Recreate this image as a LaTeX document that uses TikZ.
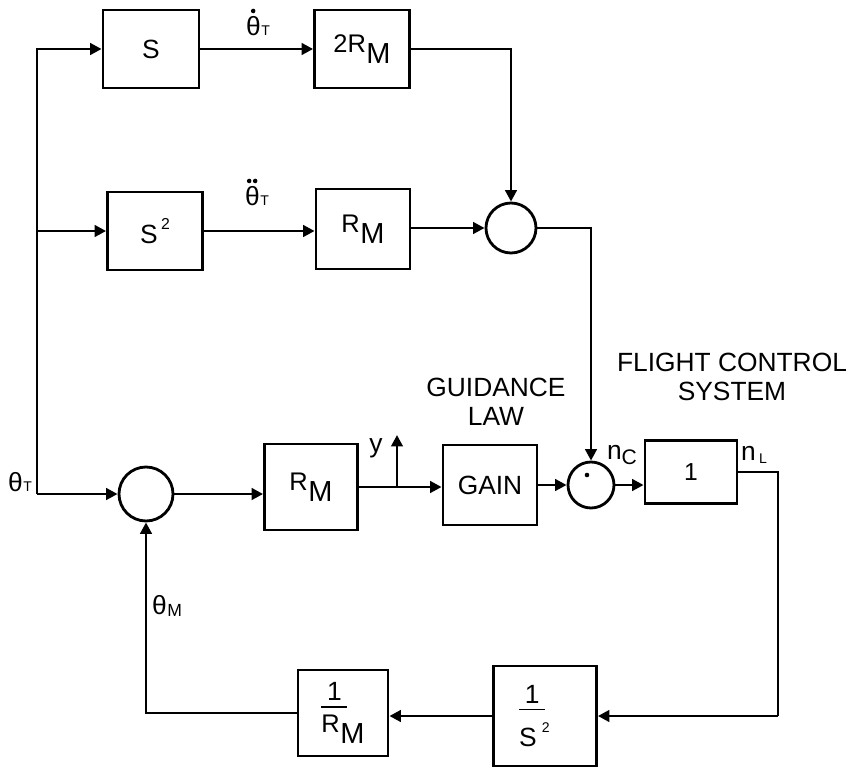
\documentclass[tikz,border=0pt]{standalone}
\usepackage{fontspec}
\setmainfont{Liberation Sans}
\usetikzlibrary{arrows.meta}
\newcommand\RMt[1][]{{\fontsize{14.5}{15}\selectfont\raisebox{6.5pt}{#1R}}\kern0.3pt{\fontsize{16.5}{18}\selectfont M}}
\newcommand\subT{\kern0.4pt{\fontsize{8}{8}\selectfont T}}
\newcommand\fracbox[3]{\vbox{\offinterlineskip\halign{##\hfil\cr\makebox[#1]{1}\cr\noalign{\kern3pt}\rule{#1}{1pt}\cr\noalign{\kern#3}#2\cr}}}
\begin{document}
\begin{tikzpicture}[x=0.02cm,y=-0.02cm,
  blk/.style 2 args={draw, line width=1.6pt, minimum width=#1*0.02cm, minimum height=#2*0.02cm, inner sep=0pt, font=\fontsize{15}{18}\selectfont},
  sumc/.style={draw, circle, line width=1.6pt, minimum size=#1*0.02cm, inner sep=0pt},
  lbl/.style={font=\fontsize{15}{17}\selectfont, inner sep=0pt},
  head/.style={font=\fontsize{15}{16.5}\selectfont, align=center, inner sep=0pt},
  arr/.style={line width=1.6pt, -{Triangle[length=6.5pt,width=6.5pt]}},
  ln/.style={line width=1.6pt}]
\useasboundingbox (0,0) rectangle (855,771);

% blocks
\node[blk={96}{78}] (S) at (151,49) {\fontsize{15}{16}\selectfont S};
\node[blk={95}{78}] (R2) at (362,49) {\RMt[2]};
\node[blk={95}{78}] (S2) at (155,231) {\fontsize{15}{16}\selectfont S\kern2pt\raisebox{8pt}{\fontsize{9}{9}\selectfont 2}};
\node[blk={94}{80}] (RMa) at (363,229) {\RMt};
\node[sumc={50}] (sum1) at (511,228) {};

\node[sumc={54}] (sum3) at (146,494) {};
\node[blk={93}{86}] (RMb) at (311,487) {\RMt};
\node[blk={94}{80}] (gain) at (490,485) {GAIN};
\node[sumc={46}] (sum2) at (591,485) {};
\node[circle, fill, inner sep=0pt, minimum size=2.6pt] (dot) at (587,475) {};
\node[blk={92}{63}] (one) at (691,472) {\fontsize{14}{15}\selectfont 1};

\node[blk={103}{100}] (inv2) at (545,716) {\kern-12pt\fracbox{0.52cm}{\fontsize{15}{16}\selectfont S\kern3pt\raisebox{8pt}{\fontsize{8}{8}\selectfont 2}}{7pt}};
\node[blk={90}{86}] (invR) at (343,713) {\fracbox{0.52cm}{\RMt}{4pt}};

% coordinates
\coordinate (L3) at (37,494);
\coordinate (yb) at (397,487);
\coordinate (ytop) at (397,435);
\coordinate (C1) at (778,472);
\coordinate (C2) at (778,716);
\coordinate (C3) at (146,713);

% connectors
\draw[arr] (L3) |- (S.west);
\draw[arr] (S2.west -| L3) -- (S2.west);
\draw[arr] (L3) -- (sum3.west);
\draw[arr] (S.east) -- (R2.west);
\draw[arr] (S2.east) -- (S2.east -| RMa.west);
\draw[arr] (RMa.east |- sum1.west) -- (sum1.west);
\draw[arr] (R2.east) -| (sum1.north);
\draw[arr] (sum1.east) -| (sum2.north);
\draw[arr] (sum3.east) -- (sum3.east -| RMb.west);
\draw[arr] (RMb.east) -- (RMb.east -| gain.west);
\draw[arr] (yb) -- (ytop);
\draw[arr] (gain.east) -- (sum2.west);
\draw[arr] (sum2.east) -- (sum2.east -| one.west);
\draw[ln] (one.east) -- (C1) -- (C2);
\draw[arr] (C2) -- (inv2.east);
\draw[arr] (inv2.west) -- (inv2.west -| invR.east);
\draw[arr] (invR.west) -- (C3) -- (sum3.south);

% labels
\node[lbl] (ltd) at (258,26) {θ\subT};
\fill ([shift={(7.5,-5)}]ltd.north west) circle (1.3pt);
\node[lbl] (ltdd) at (257,196) {θ\subT};
\fill ([shift={(4.5,-5)}]ltdd.north west) circle (1.3pt);
\fill ([shift={(10.5,-5)}]ltdd.north west) circle (1.3pt);
\node[lbl] (lt) at (20,482) {θ\subT};
\node[lbl] (lm) at (167,606) {θ\kern0.3pt\raisebox{-1pt}{\fontsize{10}{10}\selectfont M}};
\node[lbl] (ly) at (376,448) {y};
\node[lbl] (lnc) at (622,455) {n\raisebox{-3pt}{\fontsize{12}{12}\selectfont C}};
\node[lbl] (lnl) at (754,455) {n\kern2pt\raisebox{-2pt}{\fontsize{8}{8}\selectfont L}};
\node[head] (guid) at (496,402) {GUIDANCE\\LAW};
\node[head] (fcs) at (732,377) {FLIGHT CONTROL\\SYSTEM};
\end{tikzpicture}
\end{document}
